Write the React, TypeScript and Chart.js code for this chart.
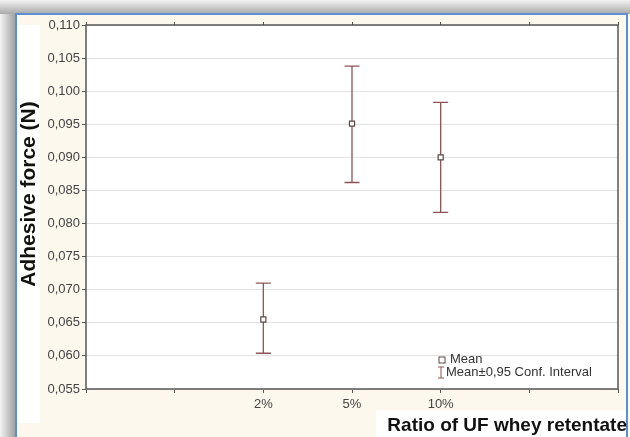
import React, { useEffect, useRef } from 'react';
import { Chart, registerables } from 'chart.js';

Chart.register(...registerables);

const categories = ['2%', '5%', '10%'];
const categoryPositions = [2, 3, 4];
const means = [0.0655, 0.0951, 0.09];
const upper = [0.071, 0.1038, 0.0983];
const lower = [0.0604, 0.0862, 0.0817];
const yMin = 0.055;
const yMax = 0.11;
const yStep = 0.005;
const xTitle = 'Ratio of UF whey retentate';
const yTitle = 'Adhesive force (N)';
const legendLabels = ['Mean', 'Mean\u00b10,95 Conf. Interval'];

const BAR_COLOR = '#8e5454';
const FONT = '"Liberation Sans", Arial, sans-serif';

const framePlugin = {
  id: 'framePlugin',
  beforeDraw(chart: any) {
    const { ctx, width, height } = chart;
    ctx.save();
    const gTop = ctx.createLinearGradient(0, 0, 0, 14);
    gTop.addColorStop(0, '#f2f2f2');
    gTop.addColorStop(1, '#a9a9a9');
    ctx.fillStyle = '#ffffff';
    ctx.fillRect(0, 0, width, height);
    ctx.fillStyle = gTop;
    ctx.fillRect(0, 0, width, 14);
    const gLeft = ctx.createLinearGradient(0, 0, 15, 0);
    gLeft.addColorStop(0, '#f4f4f4');
    gLeft.addColorStop(1, '#a0a0a0');
    ctx.fillStyle = gLeft;
    ctx.fillRect(0, 14, 15, height - 14);
    ctx.fillStyle = '#fcf8ee';
    ctx.fillRect(15, 13, 613, height - 13);
    ctx.fillStyle = '#ffffff';
    ctx.fillRect(17, 25, 23, 398);
    ctx.fillRect(376, 410, 251, height - 410);
    ctx.strokeStyle = '#5a8fd2';
    ctx.lineWidth = 2;
    ctx.beginPath();
    ctx.moveTo(16, height);
    ctx.lineTo(16, 14);
    ctx.lineTo(627, 14);
    ctx.lineTo(627, height);
    ctx.stroke();
    const a = chart.chartArea;
    ctx.fillStyle = '#ffffff';
    ctx.fillRect(a.left, a.top, a.right - a.left, a.bottom - a.top);
    ctx.restore();
  },
  afterDraw(chart: any) {
    const { ctx } = chart;
    const a = chart.chartArea;
    ctx.save();
    ctx.strokeStyle = '#555555';
    ctx.lineWidth = 1.5;
    ctx.strokeRect(a.left, a.top, a.right - a.left, a.bottom - a.top);
    ctx.fillStyle = '#111111';
    ctx.font = `bold 19px ${FONT}`;
    ctx.textAlign = 'right';
    ctx.textBaseline = 'alphabetic';
    ctx.fillText(xTitle, 627, 431);
    ctx.save();
    ctx.translate(35, 194);
    ctx.rotate(-Math.PI / 2);
    ctx.textAlign = 'center';
    ctx.font = `bold 21px ${FONT}`;
    ctx.fillText(yTitle, 0, 0);
    ctx.restore();
    // legend
    const lx = 442;
    const ly1 = 360;
    const ly2 = 372;
    ctx.strokeStyle = '#5b4646';
    ctx.lineWidth = 1;
    ctx.fillStyle = '#ffffff';
    ctx.fillRect(lx - 3, ly1 - 3, 6, 6);
    ctx.strokeRect(lx - 3, ly1 - 3, 6, 6);
    ctx.strokeStyle = BAR_COLOR;
    ctx.beginPath();
    ctx.moveTo(lx - 1, ly2 - 5);
    ctx.lineTo(lx - 1, ly2 + 6);
    ctx.moveTo(lx - 4, ly2 - 5);
    ctx.lineTo(lx + 2, ly2 - 5);
    ctx.moveTo(lx - 4, ly2 + 6);
    ctx.lineTo(lx + 2, ly2 + 6);
    ctx.stroke();
    ctx.fillStyle = '#333333';
    ctx.font = `13px ${FONT}`;
    ctx.textAlign = 'left';
    ctx.textBaseline = 'middle';
    ctx.fillText(legendLabels[0], 450, ly1 - 1);
    ctx.fillText(legendLabels[1], 446, ly2);
    ctx.restore();
  },
};

const errorBarPlugin = {
  id: 'errorBarPlugin',
  beforeDatasetsDraw(chart: any) {
    const { ctx } = chart;
    const xs = chart.scales.x;
    const ys = chart.scales.y;
    ctx.save();
    ctx.strokeStyle = BAR_COLOR;
    ctx.lineWidth = 1.3;
    for (let i = 0; i < categoryPositions.length; i++) {
      const x = xs.getPixelForValue(categoryPositions[i]);
      const yu = ys.getPixelForValue(upper[i]);
      const yl = ys.getPixelForValue(lower[i]);
      ctx.beginPath();
      ctx.moveTo(x, yu);
      ctx.lineTo(x, yl);
      ctx.moveTo(x - 7.5, yu);
      ctx.lineTo(x + 7.5, yu);
      ctx.moveTo(x - 7.5, yl);
      ctx.lineTo(x + 7.5, yl);
      ctx.stroke();
    }
    ctx.restore();
  },
};

export default function App() {
  const ref = useRef<HTMLCanvasElement | null>(null);
  useEffect(() => {
    if (!ref.current) return;
    const labelMap: Record<number, string> = {};
    categoryPositions.forEach((p, i) => (labelMap[p] = categories[i]));
    const chart = new Chart(ref.current, {
      type: 'scatter',
      data: {
        datasets: [
          {
            label: 'Mean',
            data: categoryPositions.map((p, i) => ({ x: p, y: means[i] })),
            pointStyle: 'rect',
            pointRadius: 3.6,
            borderWidth: 1.2,
            borderColor: '#5b4646',
            backgroundColor: '#ffffff',
          },
        ],
      },
      options: {
        responsive: false,
        animation: false,
        devicePixelRatio: 1,
        layout: { padding: { left: 0, top: 25, right: 12, bottom: 0 } },
        plugins: { legend: { display: false }, tooltip: { enabled: false } },
        scales: {
          x: {
            type: 'linear',
            position: 'bottom',
            min: 0,
            max: 6,
            afterFit: (s: any) => {
              s.height = 48;
            },
            border: { display: false },
            grid: { drawOnChartArea: false, tickLength: 4, tickColor: '#555555' },
            ticks: {
              stepSize: 1,
              padding: 4,
              color: '#444444',
              font: { family: FONT, size: 13 },
              callback: (v: any) => labelMap[v] ?? '',
            },
          },
          x2: {
            type: 'linear',
            position: 'top',
            min: 0,
            max: 6,
            afterFit: (s: any) => {
              s.height = 0;
            },
            border: { display: false },
            grid: { drawOnChartArea: false, tickLength: 3, tickColor: '#555555' },
            ticks: { stepSize: 1, display: false },
          },
          y: {
            type: 'linear',
            min: yMin,
            max: yMax,
            afterFit: (s: any) => {
              s.width = 86;
            },
            border: { display: false },
            grid: { color: '#e2e2e2', tickLength: 4, tickColor: '#555555', lineWidth: 1 },
            ticks: {
              stepSize: yStep,
              padding: 2,
              color: '#444444',
              font: { family: FONT, size: 13 },
              callback: (v: any) => Number(v).toFixed(3).replace('.', ','),
            },
          },
        },
      },
      plugins: [framePlugin, errorBarPlugin],
    });
    return () => chart.destroy();
  }, []);
  return (
    <div style={{ position: 'fixed', left: 0, top: 0, width: 630, height: 437 }}>
      <canvas ref={ref} width={630} height={437} style={{ display: 'block' }} />
    </div>
  );
}
